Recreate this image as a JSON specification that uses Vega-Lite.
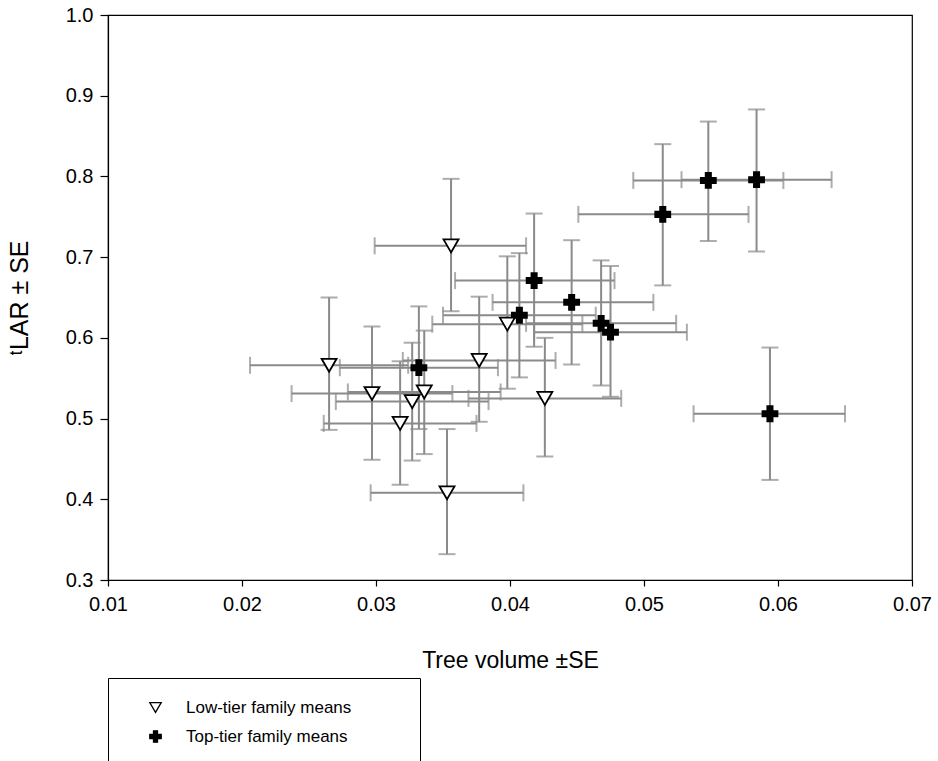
{
  "$schema": "https://vega.github.io/schema/vega-lite/v6.json",
  "width": 804,
  "height": 565,
  "autosize": "none",
  "padding": {"left": 108, "top": 15, "right": 26, "bottom": 181},
  "background": "white",
  "config": {
    "view": {"stroke": "black", "strokeWidth": 1.2},
    "font": "Liberation Sans",
    "axis": {"grid": false, "domainColor": "black", "tickColor": "black", "labelColor": "black", "titleColor": "black", "labelFont": "Liberation Sans", "titleFont": "Liberation Sans", "labelFontSize": 20, "titleFontSize": 23, "titleFontWeight": "normal", "domainWidth": 1.2, "tickWidth": 1.2},
    "legend": {
      "orient": "none", "legendX": 0, "legendY": 663,
      "strokeColor": "black", "fillColor": "white", "padding": 21,
      "symbolOffset": 18, "labelFont": "Liberation Sans", "labelFontSize": 17,
      "labelColor": "black", "labelOffset": 22, "rowPadding": 11, "labelLimit": 400,
      "symbolSize": 130, "symbolStrokeWidth": 1.3,
      "titleOrient": "right", "titlePadding": 48, "titleFontSize": 17
    }
  },
  "data": {"values": [
    {"group": "Top-tier family means", "x": 0.0584, "y": 0.796, "xlo": 0.0528, "xhi": 0.0640, "ylo": 0.707, "yhi": 0.883},
    {"group": "Top-tier family means", "x": 0.0548, "y": 0.795, "xlo": 0.0492, "xhi": 0.0604, "ylo": 0.720, "yhi": 0.868},
    {"group": "Top-tier family means", "x": 0.0514, "y": 0.753, "xlo": 0.0451, "xhi": 0.0578, "ylo": 0.665, "yhi": 0.840},
    {"group": "Top-tier family means", "x": 0.0594, "y": 0.506, "xlo": 0.0537, "xhi": 0.0650, "ylo": 0.424, "yhi": 0.588},
    {"group": "Top-tier family means", "x": 0.0418, "y": 0.671, "xlo": 0.0359, "xhi": 0.0478, "ylo": 0.589, "yhi": 0.754},
    {"group": "Top-tier family means", "x": 0.0446, "y": 0.644, "xlo": 0.0387, "xhi": 0.0507, "ylo": 0.567, "yhi": 0.721},
    {"group": "Top-tier family means", "x": 0.0407, "y": 0.628, "xlo": 0.0350, "xhi": 0.0464, "ylo": 0.551, "yhi": 0.705},
    {"group": "Top-tier family means", "x": 0.0468, "y": 0.618, "xlo": 0.0412, "xhi": 0.0524, "ylo": 0.541, "yhi": 0.696},
    {"group": "Top-tier family means", "x": 0.0475, "y": 0.607, "xlo": 0.0418, "xhi": 0.0532, "ylo": 0.527, "yhi": 0.689},
    {"group": "Top-tier family means", "x": 0.0332, "y": 0.563, "xlo": 0.0273, "xhi": 0.0391, "ylo": 0.487, "yhi": 0.639},
    {"group": "Low-tier family means", "x": 0.0356, "y": 0.714, "xlo": 0.0299, "xhi": 0.0412, "ylo": 0.633, "yhi": 0.797},
    {"group": "Low-tier family means", "x": 0.0398, "y": 0.617, "xlo": 0.0342, "xhi": 0.0454, "ylo": 0.537, "yhi": 0.701},
    {"group": "Low-tier family means", "x": 0.0377, "y": 0.572, "xlo": 0.0320, "xhi": 0.0434, "ylo": 0.496, "yhi": 0.651},
    {"group": "Low-tier family means", "x": 0.0426, "y": 0.525, "xlo": 0.0369, "xhi": 0.0483, "ylo": 0.453, "yhi": 0.600},
    {"group": "Low-tier family means", "x": 0.0336, "y": 0.533, "xlo": 0.0279, "xhi": 0.0393, "ylo": 0.456, "yhi": 0.609},
    {"group": "Low-tier family means", "x": 0.0327, "y": 0.521, "xlo": 0.0270, "xhi": 0.0384, "ylo": 0.448, "yhi": 0.594},
    {"group": "Low-tier family means", "x": 0.0318, "y": 0.494, "xlo": 0.0261, "xhi": 0.0375, "ylo": 0.418, "yhi": 0.571},
    {"group": "Low-tier family means", "x": 0.0265, "y": 0.566, "xlo": 0.0206, "xhi": 0.0324, "ylo": 0.486, "yhi": 0.650},
    {"group": "Low-tier family means", "x": 0.0297, "y": 0.531, "xlo": 0.0237, "xhi": 0.0357, "ylo": 0.449, "yhi": 0.614},
    {"group": "Low-tier family means", "x": 0.0353, "y": 0.408, "xlo": 0.0296, "xhi": 0.0410, "ylo": 0.332, "yhi": 0.487}
  ]},
  "layer": [
    {
      "mark": {"type": "errorbar", "ticks": {"size": 17, "thickness": 2, "color": "#8a8a8a"}, "rule": {"strokeWidth": 2, "color": "#8a8a8a"}},
      "encoding": {
        "x": {"field": "xlo", "type": "quantitative", "title": "Tree volume ±SE", "scale": {"domain": [0.01, 0.07], "nice": false, "zero": false}, "axis": {"values": [0.01, 0.02, 0.03, 0.04, 0.05, 0.06, 0.07], "format": ".2f", "tickSize": 6, "labelPadding": 8, "titlePadding": 35, "labelFlush": false, "labelFontSize": 20, "titleFontSize": 23, "labelFont": "Liberation Sans", "titleFont": "Liberation Sans", "titleFontWeight": "normal"}},
        "x2": {"field": "xhi"},
        "y": {"field": "y", "type": "quantitative", "title": "ᵗLAR ± SE", "scale": {"domain": [0.3, 1.0], "nice": false, "zero": false}, "axis": {"values": [0.3, 0.4, 0.5, 0.6, 0.7, 0.8, 0.9, 1.0], "format": ".1f", "tickSize": 8, "labelPadding": 7, "titlePadding": 33, "labelFontSize": 20, "titleFontSize": 25, "labelFont": "Liberation Sans", "titleFont": "Liberation Sans", "titleFontWeight": "normal"}}
      }
    },
    {
      "mark": {"type": "errorbar", "ticks": {"size": 17, "thickness": 2, "color": "#8a8a8a"}, "rule": {"strokeWidth": 2, "color": "#8a8a8a"}},
      "encoding": {
        "y": {"field": "ylo", "type": "quantitative", "title": "ᵗLAR ± SE"},
        "y2": {"field": "yhi"},
        "x": {"field": "x", "type": "quantitative", "title": "Tree volume ±SE"}
      }
    },
    {
      "mark": {"type": "point", "filled": false, "size": 225, "strokeWidth": 1.8, "opacity": 1},
      "encoding": {
        "x": {"field": "x", "type": "quantitative", "title": "Tree volume ±SE"},
        "y": {"field": "y", "type": "quantitative", "title": "ᵗLAR ± SE"},
        "shape": {"field": "group", "type": "nominal", "title": "\u2003", "scale": {"domain": ["Low-tier family means", "Top-tier family means"], "range": ["triangle-down", "M-0.35,-1L0.35,-1L0.35,-0.35L1,-0.35L1,0.35L0.35,0.35L0.35,1L-0.35,1L-0.35,0.35L-1,0.35L-1,-0.35L-0.35,-0.35Z"]}},
        "fill": {"field": "group", "type": "nominal", "title": "\u2003", "scale": {"domain": ["Low-tier family means", "Top-tier family means"], "range": ["white", "black"]}},
        "stroke": {"field": "group", "type": "nominal", "title": "\u2003", "scale": {"domain": ["Low-tier family means", "Top-tier family means"], "range": ["black", "black"]}}
      }
    }
  ]
}
